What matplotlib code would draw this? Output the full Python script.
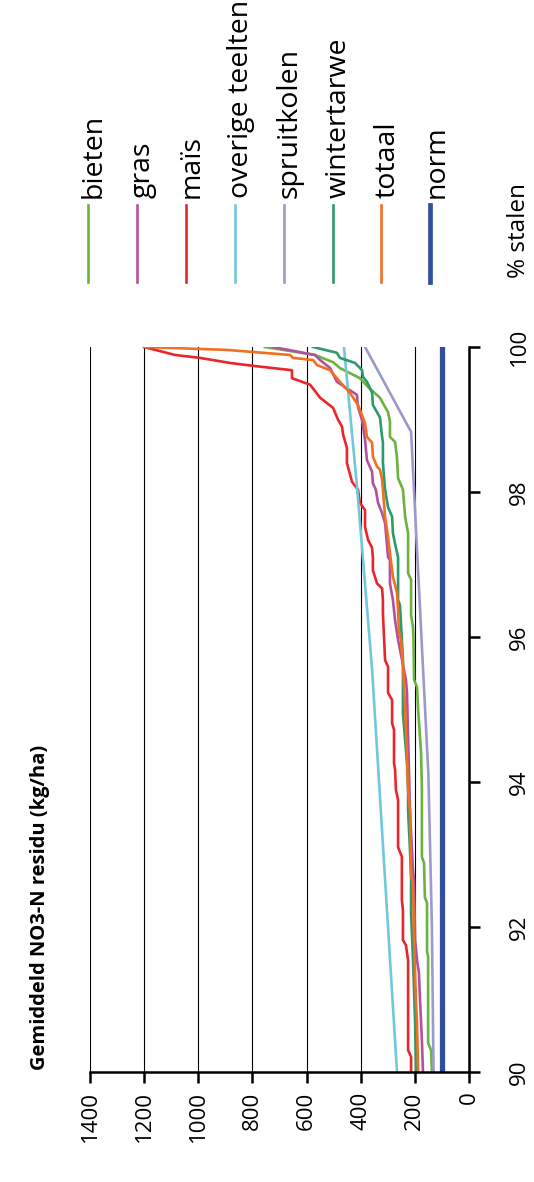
from matplotlib import pyplot as plt
from matplotlib.lines import Line2D

plt.rcParams['font.family'] = ['Open Sans', 'DejaVu Sans']

# percentiel (% stalen) en NO3-N residu (kg/ha) per teelt
bieten_pct = [90, 90.3, 90.4, 91.59, 91.66, 92.33, 92.41, 92.88, 92.97, 93.89, 94.4, 95.0, 95.31, 95.41,
              95.96, 96.14, 96.3, 96.79, 96.88, 97.43, 97.66, 98.03, 98.07, 98.19, 98.47, 98.69, 98.76,
              98.97, 99.1, 99.3, 99.45, 99.57, 99.71, 99.79, 99.89, 100]
bieten_val = [137, 140, 151, 151, 155, 155, 163, 166, 174, 174, 177, 188, 192, 203,
              205, 207, 214, 214, 225, 225, 236, 244, 248, 262, 266, 273, 292,
              292, 299, 329, 373, 403, 477, 502, 569, 754]

gras_pct = [90, 90.44, 91.0, 91.37, 91.54, 91.82, 92.65, 92.79, 93.59, 95.23, 95.41, 95.96, 96.23, 96.51,
            96.74, 97.06, 97.1, 97.57, 97.71, 97.85, 98.03, 98.12, 98.28, 98.44, 98.72, 98.99, 99.17,
            99.34, 99.43, 99.52, 99.71, 99.82, 99.89, 100]
gras_val = [170, 174, 181, 185, 192, 199, 203, 207, 218, 229, 233, 262, 273, 281,
            292, 292, 299, 310, 321, 336, 344, 355, 358, 377, 384, 395, 410,
            414, 451, 488, 513, 550, 569, 724]

mais_pct = [90, 90.21, 90.3, 91.54, 91.75, 91.82, 92.23, 92.37, 92.97, 93.1, 93.75, 93.89, 94.17, 94.26,
            94.72, 94.81, 95.13, 95.23, 95.59, 95.68, 96.33, 96.51, 96.67, 96.74, 96.79, 96.92, 97.09,
            97.23, 97.34, 97.52, 97.75, 97.85, 98.03, 98.14, 98.4, 98.61, 98.79, 98.9, 99.0, 99.16,
            99.3, 99.48, 99.57, 99.68, 99.74, 99.78, 99.85, 99.89, 100]
mais_val = [214, 214, 225, 225, 233, 244, 244, 248, 248, 262, 262, 270, 273, 277,
            277, 284, 284, 299, 299, 310, 318, 318, 321, 340, 344, 355, 355,
            358, 373, 384, 384, 403, 410, 432, 451, 451, 465, 469, 484, 502,
            550, 587, 654, 654, 798, 883, 994, 1086, 1200]

overig_pct = [90, 95.55, 98, 100]
overig_val = [266, 358, 412, 462]

spruit_pct = [90, 92, 94.1, 98.83, 100]
spruit_val = [131, 137, 150, 214, 384]

tarwe_pct = [90, 90.68, 91.57, 92.19, 92.69, 93.06, 93.61, 93.89, 94.26, 94.95, 95.68, 95.96, 96.44,
             96.51, 97.1, 97.23, 97.43, 97.66, 97.79, 98.03, 98.4, 98.68, 98.76, 99.03, 99.2, 99.37,
             99.52, 99.59, 99.68, 99.78, 99.85, 99.92, 100]
tarwe_val = [196, 199, 207, 214, 214, 218, 225, 225, 229, 244, 244, 248, 255,
             262, 262, 270, 281, 284, 299, 310, 318, 318, 321, 329, 355, 358,
             377, 392, 395, 421, 477, 488, 576]

totaal_pct = [90, 90.68, 90.99, 91.82, 92.61, 92.69, 93.61, 93.89, 94.34, 95.03, 95.64, 95.78, 95.96,
              96.06, 96.37, 96.61, 96.83, 97.16, 97.38, 97.66, 98.03, 98.17, 98.31, 98.35, 98.49, 98.68,
              98.76, 98.95, 99.03, 99.2, 99.37, 99.52, 99.68, 99.75, 99.82, 99.85, 99.89, 99.96, 100]
totaal_val = [188, 192, 196, 203, 207, 214, 218, 225, 229, 236, 244, 248, 251,
              259, 262, 266, 281, 292, 299, 310, 318, 321, 329, 340, 355, 358,
              377, 384, 392, 410, 440, 477, 513, 561, 576, 650, 661, 894, 1200]

norm_pct = [90, 100]
norm_val = [100, 100]

namen = ['bieten', 'gras', 'maïs', 'overige teelten', 'spruitkolen', 'wintertarwe', 'totaal', 'norm']
kleuren = ['#6cb33e', '#b2519e', '#e8262b', '#72c8d9', '#9d9acb', '#2b9b6b', '#f26f21', '#314f9d']
reeksen = [(bieten_pct, bieten_val), (gras_pct, gras_val), (mais_pct, mais_val),
           (overig_pct, overig_val), (spruit_pct, spruit_val), (tarwe_pct, tarwe_val),
           (totaal_pct, totaal_val), (norm_pct, norm_val)]

W, H = 534, 1182
fig = plt.figure(figsize=(W / 100, H / 100), dpi=100)
ax = fig.add_axes([90 / W, 1 - 1072 / H, 379 / W, 725 / H])

# de grafiek staat 90 graden gedraaid: residu horizontaal (naar links), % stalen verticaal
for (p, v), naam, kleur in zip(reeksen, namen, kleuren):
    dikte = 3.8 if naam == 'norm' else 1.9
    ax.plot(v, p, color=kleur, lw=dikte)

ax.set_xlim(1400, 0)
ax.set_ylim(90, 100)
ax.set_xticks(range(0, 1401, 200))
ax.set_yticks(range(90, 101, 2))
ax.grid(axis='x', color='black', lw=0.8)
ax.set_axisbelow(True)
for s in ['left', 'top']:
    ax.spines[s].set_visible(False)
for s in ['bottom', 'right']:
    ax.spines[s].set_linewidth(1.8)
ax.yaxis.tick_right()
ax.tick_params(axis='x', direction='out', length=8, width=1.8, pad=6, labelsize=16, labelrotation=90)
ax.tick_params(axis='y', direction='out', length=8, width=1.8, pad=21, labelsize=16, labelrotation=90)
for t in ax.get_yticklabels():
    t.set_va('center')

fig.text(40 / W, 1 - 1070 / H, 'Gemiddeld NO3-N residu (kg/ha)', rotation=90,
         ha='center', va='bottom', fontsize=14.5, fontweight='bold')
fig.text(519 / W, 1 - 230 / H, '% stalen', rotation=90, ha='center', va='center', fontsize=17.5)

# legende
for i, (naam, kleur) in enumerate(zip(namen, kleuren)):
    x = (88 + 48.9 * i) / W
    dikte = 3.4 if naam == 'norm' else 1.9
    fig.add_artist(Line2D([x, x], [1 - 282 / H, 1 - 205 / H], color=kleur, lw=dikte))
    fig.text(x + 6 / W, 1 - 198 / H, naam, rotation=90, ha='center', va='bottom', fontsize=20.5)

fig.savefig('out.png', dpi=100)
